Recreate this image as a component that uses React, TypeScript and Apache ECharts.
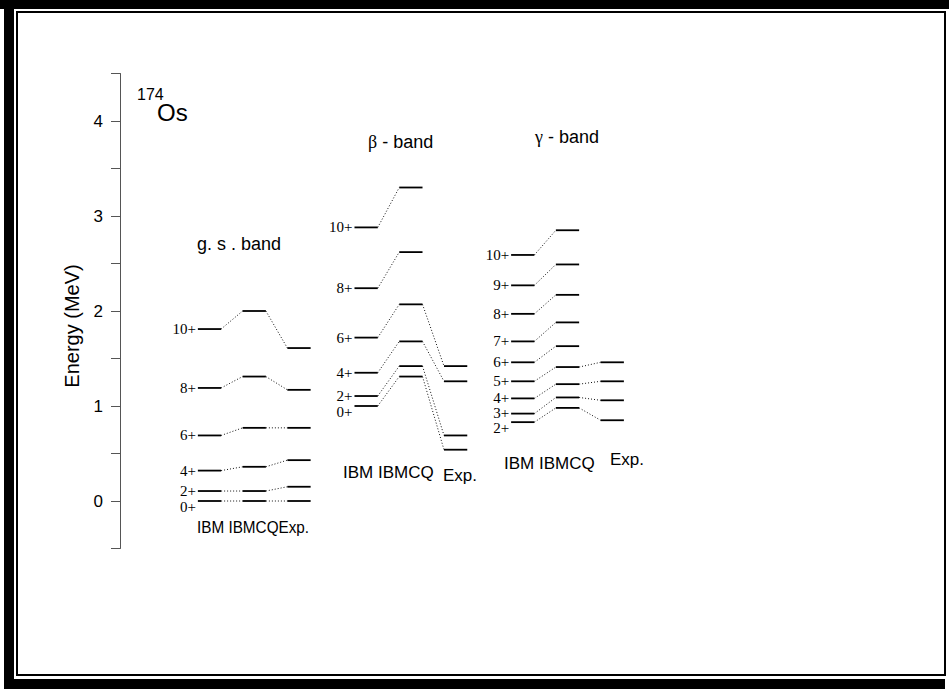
import React, { useEffect, useRef } from "react";
import * as echarts from "echarts";

// Level energies of 174Os (MeV): IBM, IBMCQ and experimental values per band
const gsSpins = ["0+", "2+", "4+", "6+", "8+", "10+"];
const gsIBM = [0, 0.105, 0.32, 0.69, 1.19, 1.81];
const gsIBMCQ = [0, 0.105, 0.36, 0.77, 1.31, 2.0];
const gsExp = [0, 0.15, 0.43, 0.77, 1.17, 1.61];

const betaSpins = ["0+", "2+", "4+", "6+", "8+", "10+"];
const betaIBM = [1.0, 1.105, 1.35, 1.72, 2.24, 2.88];
const betaIBMCQ = [1.31, 1.42, 1.68, 2.07, 2.62, 3.3];
const betaExp = [0.54, 0.69, 1.26, 1.42, null, null];

const gammaSpins = ["2+", "3+", "4+", "5+", "6+", "7+", "8+", "9+", "10+"];
const gammaIBM = [0.83, 0.92, 1.08, 1.26, 1.46, 1.68, 1.97, 2.27, 2.59];
const gammaIBMCQ = [0.98, 1.09, 1.23, 1.41, 1.63, 1.88, 2.17, 2.49, 2.85];
const gammaExp = [0.85, 1.06, 1.26, 1.46, null, null, null, null, null];

const columnNames = ["IBM", "IBMCQ", "Exp."];
const bandTitles = ["g. s . band", "β - band", "γ - band"];

type Band = { spins: string[]; cols: (number | null)[][]; start: number };

// first column position of each band on the (hidden) x axis
const bands: Band[] = [
  { spins: gsSpins, cols: [gsIBM, gsIBMCQ, gsExp], start: 2 },
  { spins: betaSpins, cols: [betaIBM, betaIBMCQ, betaExp], start: 5.5 },
  { spins: gammaSpins, cols: [gammaIBM, gammaIBMCQ, gammaExp], start: 9 },
];

const HALF = 0.26; // half length of a level bar, x-axis units
const CROWDED = 0.14; // MeV; closer spin labels are spread apart

type Level = { x: number; e: number; label: string; dy: number };
type Link = { x1: number; e1: number; x2: number; e2: number };

const levels: Level[] = [];
const links: Link[] = [];
bands.forEach((b) => {
  b.cols.forEach((vals, c) => {
    vals.forEach((e, i) => {
      if (e == null) return;
      // pixel shift of the spin label: up when a level sits just below, down when one sits just above
      let dy = 0;
      if (c === 0) {
        const below = i > 0 ? vals[i - 1] : null;
        const above = i < vals.length - 1 ? vals[i + 1] : null;
        if (below != null && e - below < CROWDED) dy -= 0.5;
        if (above != null && above - e < CROWDED) dy += 6;
      }
      levels.push({ x: b.start + c, e, label: c === 0 ? b.spins[i] : "", dy });
      const next = b.cols[c + 1];
      if (next && next[i] != null) {
        links.push({
          x1: b.start + c + HALF,
          e1: e,
          x2: b.start + c + 1 - HALF,
          e2: next[i] as number,
        });
      }
    });
  });
});

const SANS = "'Liberation Sans', Arial, sans-serif";
const SERIF = "'Liberation Serif', 'Times New Roman', serif";

export default function App() {
  const ref = useRef<HTMLDivElement>(null);

  useEffect(() => {
    if (!ref.current) return;
    const chart = echarts.init(ref.current, null, { renderer: "svg" });

    const caption = (text: string, x: number, y: number, scaleX = 1) => ({
      type: "text",
      x,
      y,
      scaleX,
      style: { text, font: `17px ${SANS}`, fill: "#000", verticalAlign: "middle" },
    });

    const title = (text: string, x: number, y: number) => ({
      type: "text",
      x,
      y,
      style: {
        text,
        font: `18px ${SANS}`,
        fill: "#000",
        verticalAlign: "middle",
        rich: { g: { fontFamily: SERIF, fontSize: 18, fill: "#000" } },
      },
    });

    chart.setOption({
      animation: false,
      backgroundColor: "#fff",
      grid: { left: 120, right: 23.5, top: 73.5, bottom: 140.5 },
      xAxis: { type: "value", min: 0, max: 18, show: false },
      yAxis: {
        type: "value",
        min: -0.5,
        max: 4.5,
        interval: 0.5,
        axisLine: { show: true, lineStyle: { color: "#555", width: 1 } },
        axisTick: { show: true, length: 9, lineStyle: { color: "#555" } },
        splitLine: { show: false },
        axisLabel: {
          margin: 17,
          fontFamily: SANS,
          fontSize: 17,
          color: "#000",
          formatter: (v: number) => (Number.isInteger(v) ? String(v) : ""),
        },
      },
      series: [
        {
          type: "custom",
          name: "links",
          data: links.map((l) => [l.x1, l.e1, l.x2, l.e2]),
          renderItem: (params: any, api: any) => {
            const a = api.coord([api.value(0), api.value(1)]);
            const b = api.coord([api.value(2), api.value(3)]);
            return {
              type: "line",
              shape: { x1: a[0], y1: a[1], x2: b[0], y2: b[1] },
              style: { stroke: "#111", lineWidth: 1, lineDash: [1, 2] },
            };
          },
          silent: true,
        },
        {
          type: "custom",
          name: "levels",
          data: levels.map((l) => [l.x, l.e]),
          renderItem: (params: any, api: any) => {
            const lv = levels[params.dataIndex];
            const a = api.coord([api.value(0) - HALF, api.value(1)]);
            const b = api.coord([api.value(0) + HALF, api.value(1)]);
            const children: any[] = [
              {
                type: "line",
                shape: { x1: a[0], y1: a[1], x2: b[0], y2: b[1] },
                style: { stroke: "#000", lineWidth: 1.8 },
              },
            ];
            if (lv.label) {
              children.push({
                type: "text",
                x: a[0] - 2,
                y: a[1] + lv.dy,
                style: {
                  text: lv.label,
                  font: `15px ${SERIF}`,
                  fill: "#000",
                  align: "right",
                  verticalAlign: "middle",
                },
              });
            }
            return { type: "group", children };
          },
          silent: true,
        },
      ],
      graphic: [
        // page frame
        { type: "rect", shape: { x: 0, y: 0, width: 949, height: 9 }, style: { fill: "#000" } },
        { type: "rect", shape: { x: 4, y: 0, width: 10, height: 689 }, style: { fill: "#000" } },
        { type: "rect", shape: { x: 4, y: 679, width: 941, height: 10 }, style: { fill: "#000" } },
        {
          type: "rect",
          shape: { x: 17, y: 12, width: 928, height: 663 },
          style: { fill: "none", stroke: "#000", lineWidth: 2 },
        },
        // axis title
        {
          type: "text",
          x: 72,
          y: 326,
          rotation: Math.PI / 2,
          style: {
            text: "Energy (MeV)",
            font: `20px ${SANS}`,
            fill: "#000",
            align: "center",
            verticalAlign: "middle",
          },
        },
        // nucleus
        { type: "text", x: 137, y: 94, style: { text: "174", font: `16px ${SANS}`, fill: "#000", verticalAlign: "middle" } },
        { type: "text", x: 157, y: 112, style: { text: "Os", font: `24px ${SANS}`, fill: "#000", verticalAlign: "middle" } },
        // band titles
        title(bandTitles[0], 197, 244),
        title("{g|β} - band", 368, 142),
        title("{g|γ} - band", 535, 137),
        // column captions
        caption(`${columnNames[0]} ${columnNames[1]}${columnNames[2]}`, 197, 527, 0.9),
        caption(`${columnNames[0]} ${columnNames[1]}`, 343, 472),
        caption(columnNames[2], 443, 475),
        caption(`${columnNames[0]} ${columnNames[1]}`, 504, 463),
        caption(columnNames[2], 610, 459),
      ],
    });

    return () => chart.dispose();
  }, []);

  return (
    <div
      ref={ref}
      style={{ position: "absolute", left: 0, top: 0, width: 949, height: 689 }}
    />
  );
}
